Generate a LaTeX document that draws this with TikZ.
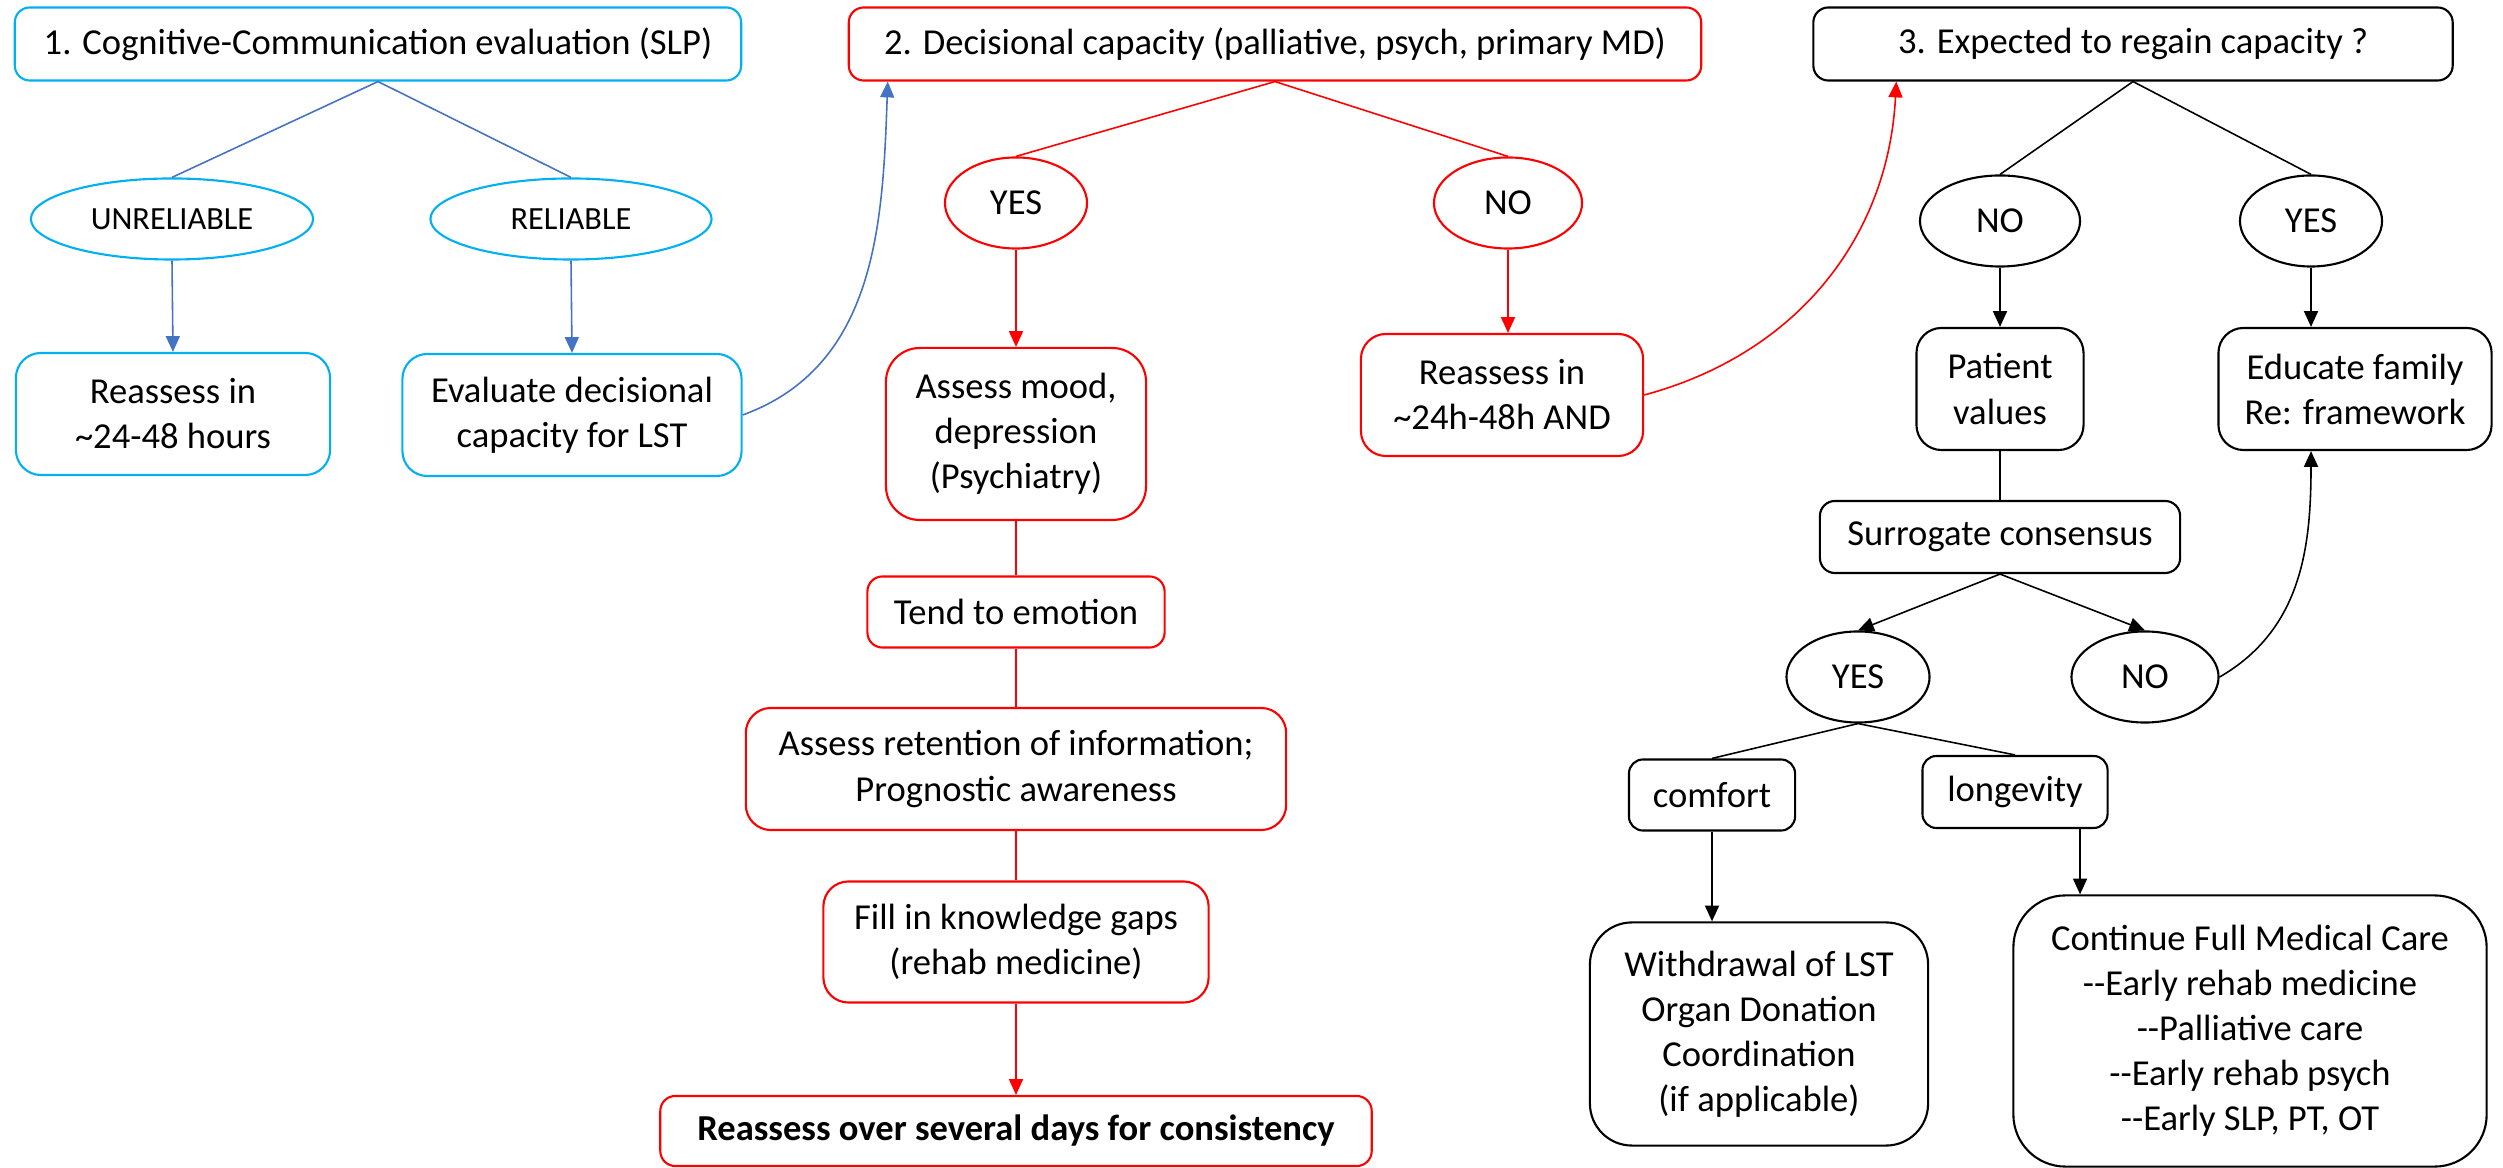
\documentclass[tikz,border=0pt]{standalone}
\usepackage{fontspec}
\setmainfont{Carlito}[Ligatures=TeXOff]
\usetikzlibrary{shapes.geometric}
\usetikzlibrary{arrows.meta}
\definecolor{slpblue}{HTML}{00B0F0}
\definecolor{linkblue}{HTML}{4472C4}
\definecolor{capred}{HTML}{FF0000}

\begin{document}
\begin{tikzpicture}[x=0.01cm,y=0.01cm,font=\fontsize{10.4}{12.8}\selectfont,
  box/.style={draw,rounded corners=0.25cm,line width=0.6pt,align=center,inner sep=0pt},
  oval/.style={draw,ellipse,line width=0.6pt,inner sep=0pt},
  link/.style={line width=0.45pt},
  arr/.style={link,-{Triangle[length=4.5pt,width=4pt]}}]
\useasboundingbox (0,0) rectangle (2503,-1168);

% 1. speech-language pathology
\node[box,draw=slpblue,rounded corners=0.15cm,minimum width=7.26cm,minimum height=0.73cm] (eval) at (378,-44) {1. Cognitive-Communication evaluation (SLP)};
\node[oval,draw=slpblue,minimum width=2.82cm,minimum height=0.81cm,font=\fontsize{9.2}{11}\selectfont] (unrel) at (172,-219) {UNRELIABLE};
\node[oval,draw=slpblue,minimum width=2.81cm,minimum height=0.81cm,font=\fontsize{9.2}{11}\selectfont] (rel) at (571,-219) {RELIABLE};
\node[box,draw=slpblue,minimum width=3.14cm,minimum height=1.22cm] (wait1) at (173,-414) {Reassess in\\\textasciitilde24-48 hours};
\node[box,draw=slpblue,minimum width=3.39cm,minimum height=1.22cm] (evalcap) at (572,-415) {Evaluate decisional\\capacity for LST};

% 2. decisional capacity
\node[box,draw=capred,rounded corners=0.15cm,minimum width=8.52cm,minimum height=0.73cm] (decide) at (1275,-44) {2. Decisional capacity (palliative, psych, primary MD)};
\node[oval,draw=capred,minimum width=1.42cm,minimum height=0.91cm] (yes2) at (1016,-203) {YES};
\node[oval,draw=capred,minimum width=1.48cm,minimum height=0.91cm] (no2) at (1508,-203) {NO};
\node[box,draw=capred,rounded corners=0.34cm,minimum width=2.6cm,minimum height=1.72cm] (mood) at (1016,-434) {Assess mood,\\depression\\(Psychiatry)};
\node[box,draw=capred,rounded corners=0.15cm,minimum width=2.97cm,minimum height=0.71cm] (emotion) at (1016,-612) {Tend to emotion};
\node[box,draw=capred,minimum width=5.4cm,minimum height=1.22cm] (retain) at (1016,-769) {Assess retention of information;\\Prognostic awareness};
\node[box,draw=capred,minimum width=3.85cm,minimum height=1.21cm] (gaps) at (1016,-942) {Fill in knowledge gaps\\(rehab medicine)};
\node[box,draw=capred,rounded corners=0.15cm,minimum width=7.11cm,minimum height=0.7cm,font=\fontsize{10.4}{12.8}\selectfont\bfseries] (consist) at (1016,-1131) {Reassess over several days for consistency};
\node[box,draw=capred,minimum width=2.82cm,minimum height=1.22cm] (wait2) at (1502,-395) {Reassess in\\\textasciitilde24h-48h AND};

% 3. regain capacity
\node[box,rounded corners=0.15cm,minimum width=6.39cm,minimum height=0.73cm] (regain) at (2133,-44) {3. Expected to regain capacity ?};
\node[oval,minimum width=1.6cm,minimum height=0.91cm] (no3) at (2000,-221) {NO};
\node[oval,minimum width=1.42cm,minimum height=0.91cm] (yes3) at (2311,-221) {YES};
\node[box,minimum width=1.67cm,minimum height=1.22cm] (values) at (2000,-389) {Patient\\values};
\node[box,minimum width=2.73cm,minimum height=1.22cm] (educate) at (2355,-389) {Educate family\\Re: framework};
\node[box,rounded corners=0.15cm,minimum width=3.6cm,minimum height=0.72cm] (surrogate) at (2000,-537) {Surrogate consensus};
\node[oval,minimum width=1.43cm,minimum height=0.91cm] (yes4) at (1858,-677) {YES};
\node[oval,minimum width=1.47cm,minimum height=0.91cm] (no4) at (2145,-677) {NO};
\node[box,rounded corners=0.14cm,minimum width=1.66cm,minimum height=0.71cm] (comfort) at (1712,-795) {comfort};
\node[box,rounded corners=0.14cm,minimum width=1.85cm,minimum height=0.72cm] (longevity) at (2015,-792) {longevity};
\node[box,rounded corners=0.42cm,minimum width=3.38cm,minimum height=2.23cm] (withdraw) at (1759,-1034) {Withdrawal of LST\\Organ Donation\\Coordination\\(if applicable)};
\node[box,rounded corners=0.52cm,minimum width=4.73cm,minimum height=2.71cm] (fullcare) at (2250,-1031) {Continue Full Medical Care\\--Early rehab medicine\\--Palliative care\\--Early rehab psych\\--Early SLP, PT, OT};

\draw[link,linkblue] (eval.south) -- (unrel.north) (eval.south) -- (rel.north);
\draw[arr,linkblue] (unrel.south) -- (wait1.north);
\draw[arr,linkblue] (rel.south) -- (evalcap.north);
\draw[arr,linkblue] (evalcap.east) to[out=20,in=-92] ([xshift=0.4cm]decide.south west);

\draw[link,capred] (decide.south) -- (yes2.north) (decide.south) -- (no2.north);
\draw[arr,capred] (yes2.south) -- (mood.north);
\draw[arr,capred] (no2.south) -- (no2.south |- wait2.north);
\draw[link,capred] (mood) -- (emotion) (emotion) -- (retain) (retain) -- (gaps);
\draw[arr,capred] (gaps) -- (consist);
\draw[arr,capred] (wait2.east) to[out=15,in=-93] ([xshift=0.84cm]regain.south west);

\draw[link] (regain.south) -- (no3.north) (regain.south) -- (yes3.north);
\draw[arr] (no3) -- (values);
\draw[arr] (yes3.south) -- (yes3.south |- educate.north);
\draw[link] (values) -- (surrogate);
\draw[arr] (surrogate.south) -- (yes4.north);
\draw[arr] (surrogate.south) -- (no4.north);
\draw[arr] (no4.east) to[out=30,in=-90] (yes3.south |- educate.south);
\draw[link] (yes4.south) -- (comfort.north) (yes4.south) -- (longevity.north);
\draw[arr] (comfort.south) -- (comfort.south |- withdraw.north);
\coordinate (lonfoot) at ([xshift=0.65cm]longevity.south);
\draw[arr] (lonfoot) -- (lonfoot |- fullcare.north);
\end{tikzpicture}
\end{document}
